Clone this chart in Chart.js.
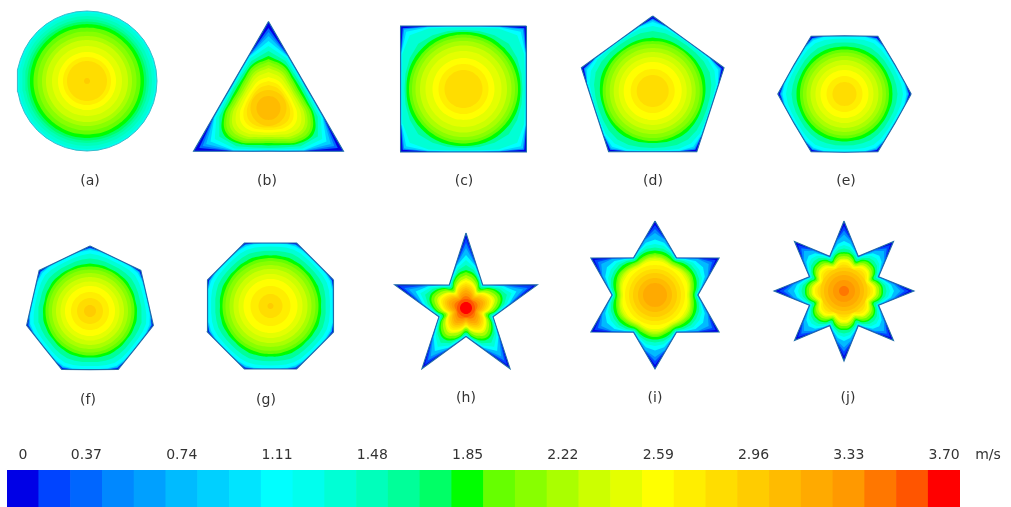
<!DOCTYPE html>
<html>
<head>
    <meta charset="UTF-8">
    <title>Velocity contours</title>
    <script src="https://cdn.jsdelivr.net/npm/chart.js"></script>
    <style>
        html, body { margin: 0; background: #fff; }
        canvas { position: absolute; left: 0; display: block; filter: blur(0.7px); }
        #shapes { top: 0; }
        #scaleBar { top: 440px; }
    </style>
</head>
<body>
    <canvas id="shapes" width="1011" height="440"></canvas>
    <canvas id="scaleBar" width="1011" height="67"></canvas>

    <script>
        // colour of each velocity band at the bottom
        const bandColors = [
            '#0000e6', '#0044ff', '#0066ff', '#0088ff', '#00a0ff', '#00bbff', '#00d0ff', '#00e4ff', '#00ffff', '#00ffee',
            '#00ffd5', '#00ffbb', '#00ff99', '#00ff66', '#00ff00', '#66ff00', '#88ff00', '#aaff00', '#ccff00', '#e4ff00',
            '#ffff00', '#ffee00', '#ffdd00', '#ffcc00', '#ffbb00', '#ffaa00', '#ff9900', '#ff7700', '#ff5500', '#ff0000'
        ];
        const bandTicks = ['0', '', '0.37', '', '', '0.74', '', '', '1.11', '', '', '1.48', '', '', '1.85', '', '', '2.22', '', '', '2.59', '', '', '2.96', '', '', '3.33', '', '', '3.70'];
        const unitLabel = 'm/s';

        const panelLabels = ['(a)', '(b)', '(c)', '(d)', '(e)', '(f)', '(g)', '(h)', '(i)', '(j)'];
        const labelX = [90, 267, 464, 653, 846, 88, 266, 466, 655, 848];
        const labelY = [181, 181, 181, 181, 181, 400, 400, 398, 398, 398];

        const centreX = [87, 268.5, 463.5, 652.7, 844.5, 90, 270.5, 466, 655, 844];
        const centreY = [81, 108, 89, 91, 94, 311, 306, 308, 295, 291];
        const sides = [1, 3, 4, 5, 6, 7, 8, 5, 6, 8];
        const startAngle = [-90, -90, -45, -90, 0, -90, -22.5, -90, -90, -90];
        // [radius at a corner, radius at the middle of a side or notch]
        const outlines = [[70], [86.6, 43.3], [89, 63], [75, 60.7], [66.7, 58.3], [65, 58.6], [68.2, 63], [75, 28.5], [74, 43], [70, 37.5]];
        const baseBand = [9, 0, 0, 0, 0, 0, 0, 0, 0, 0];

        // contour rows: band, then radii from the corner direction to the side direction
        const contoursA = [[10, 68], [11, 65], [12, 62], [13, 59.5], [14, 57], [15, 53.5], [16, 49.5], [17, 45], [18, 41], [19, 35], [20, 29], [21, 24], [22, 20], [23, 3]];
        const contoursB = [
            [2, 80, 56.2, 46, 43.1], [4, 76, 56, 45.9, 42.9], [6, 72, 55.5, 45.7, 42.6], [8, 67, 55, 45.2, 42.2], [10, 62, 53, 44, 41.5],
            [12, 57, 50, 42, 40], [14, 52, 46.5, 39.5, 37.5], [15, 49, 44.5, 37.5, 35], [16, 46.5, 42, 35.5, 33],
            [17, 43, 39, 33, 31], [18, 40, 36.5, 31, 29], [19, 36, 33, 28.5, 27], [20, 31, 29, 25.5, 24.5], [21, 27, 25.5, 23, 22],
            [22, 23, 22, 20.5, 19.5], [23, 18], [24, 12]
        ];
        const contoursC = [
            [3, 86, 72.2, 64.9, 62.8], [6, 84, 71.8, 64.7, 62.6], [8, 81, 71.4, 64.4, 62.2], [10, 76, 70, 63.5, 61.5],
            [12, 64, 62, 60, 59], [14, 58, 58, 57.5, 57], [15, 54.5], [16, 51.5], [17, 48],
            [18, 43.5], [19, 38], [20, 31], [21, 25], [22, 19]
        ];
        const contoursD = [
            [3, 72.5, 66, 61.8, 60.5], [6, 71, 65.8, 61.6, 60.3], [8, 69, 65.5, 61.4, 60.2], [10, 65, 63.5, 60.5, 59.5],
            [12, 60, 59, 57.5, 57], [14, 53.5, 53, 52.5, 52], [15, 50], [16, 47], [17, 43], [18, 39], [19, 34], [20, 29], [21, 22], [22, 16]
        ];
        const contoursE = [
            [3, 64.7, 61.7, 59, 58.1], [6, 63.5, 61.3, 58.8, 58], [8, 62, 60.7, 58.5, 57.7], [10, 58.5, 57.5, 56, 55.5],
            [12, 53, 52.5, 52, 51.5], [14, 48, 48, 47.5, 47.5], [15, 44.5], [16, 41.5], [17, 38], [18, 34], [19, 29], [20, 24], [21, 18], [22, 12]
        ];
        const contoursF = [
            [3, 63.5, 61, 59.1, 58.4], [6, 62.5, 60.7, 59, 58.3], [8, 61, 60, 58.6, 58], [10, 57.5, 56.5, 55.5, 55],
            [12, 52.5, 52, 51.5, 51], [14, 47.5, 47, 47, 46.5], [15, 44.5], [16, 41.5], [17, 38], [18, 34], [19, 29.5], [20, 25], [21, 19], [22, 13], [23, 6]
        ];
        const contoursG = [
            [3, 66.8, 65, 63.3, 62.8], [6, 66, 64.7, 63.2, 62.7], [8, 64.5, 63.8, 62.8, 62.3], [10, 61, 60.5, 59.7, 59.5],
            [12, 56.5, 56, 55.5, 55.3], [14, 51.5, 51, 51, 50.5], [15, 48], [16, 45], [17, 41], [18, 37], [19, 32], [20, 27], [21, 20], [22, 12], [23, 3]
        ];
        const contoursH = [
            [1, 70, 45.8, 34.3, 28.3], [3, 65, 45.3, 34.1, 28.2], [5, 60, 44.5, 33.8, 28], [8, 53, 43.5, 33.8, 27.8], [10, 48, 41, 32.5, 27],
            [12, 43, 38.5, 31.5, 26], [14, 38, 35.5, 30, 24.5], [15, 36, 33.5, 28.5, 23], [17, 33, 30.5, 26, 21], [19, 30, 27.5, 23.5, 19.5],
            [20, 28, 26, 22.5, 18.5], [21, 26, 24, 21, 17.5], [22, 24, 22.5, 19.5, 16.5], [23, 22, 20.5, 18, 15], [24, 20, 18.5, 16, 14],
            [25, 18, 16.5, 14.5, 12.5], [26, 15, 14, 12.5, 11], [27, 12, 11.5, 10.5, 10], [28, 9], [29, 6]
        ];
        const contoursI = [
            [1, 70, 57.3, 48.3, 42.8], [3, 66, 56.8, 48, 42.6], [5, 62, 56, 47.7, 42.5], [8, 55.5, 53, 47, 42], [10, 51, 50, 46, 41.5],
            [12, 47.5, 47, 44.5, 41], [14, 44.5, 44, 42, 39.5], [15, 42, 41, 39.5, 38], [16, 40.5, 39.5, 38, 37], [17, 39, 38, 36.5, 35.5],
            [18, 37.5, 37, 35.5, 34.5], [19, 36, 35.5, 34.5, 33.5], [20, 34, 34, 33, 32], [21, 30], [22, 26], [23, 22], [24, 17], [25, 12]
        ];
        const contoursJ = [
            [1, 65, 52.8, 43.3, 37.2], [3, 60.5, 52, 43, 37], [5, 56.5, 50.5, 42.5, 36.7], [8, 50, 47.5, 41.5, 36], [10, 46, 44.5, 40, 35.5],
            [12, 42.5, 41.5, 38, 34.5], [14, 39, 38.5, 36, 32], [15, 37.5, 37, 34, 30.5], [17, 35, 34.5, 32, 29], [19, 32.5, 32, 29.5, 27.5],
            [20, 31, 30.5, 28, 26], [21, 29, 28.5, 26.5, 24.5], [22, 26.5, 26, 24.5, 23], [23, 23.5], [24, 20], [25, 16], [26, 11], [27, 5]
        ];
        const contours = [contoursA, contoursB, contoursC, contoursD, contoursE, contoursF, contoursG, contoursH, contoursI, contoursJ];

        // radii cover one half sector, so mirror it and go round the shape
        function ringPoints(i, radii) {
            const cx = centreX[i], cy = centreY[i];
            const start = startAngle[i] * Math.PI / 180;
            const pts = [];
            const push = (a, r) => pts.push({ x: cx + r * Math.cos(a), y: cy + r * Math.sin(a) });
            if (radii.length === 1) {
                for (let k = 0; k <= 40; k++) push(start + k * Math.PI / 20, radii[0]);
                return pts;
            }
            const n = sides[i];
            const m = radii.length - 1;
            const step = Math.PI / n / m;
            for (let k = 0; k < n; k++) {
                const a = start + k * 2 * Math.PI / n;
                for (let j = 0; j <= m; j++) push(a + j * step, radii[j]);
                for (let j = m - 1; j >= 1; j--) push(a + 2 * Math.PI / n - j * step, radii[j]);
            }
            pts.push(pts[0]);
            return pts;
        }

        const datasets = [];
        panelLabels.forEach((_, i) => {
            const border = ringPoints(i, outlines[i]);
            datasets.push({ data: border, showLine: true, pointRadius: 0, fill: 'shape', backgroundColor: bandColors[baseBand[i]], borderWidth: 0 });
            contours[i].forEach(row => {
                datasets.push({
                    data: ringPoints(i, row.slice(1)),
                    showLine: true,
                    pointRadius: 0,
                    fill: 'shape',
                    backgroundColor: bandColors[row[0]],
                    borderColor: bandColors[row[0]],
                    borderWidth: 0,
                    tension: row[0] < 13 ? 0 : 0.4
                });
            });
            datasets.push({ data: border, showLine: true, pointRadius: 0, fill: false, borderColor: i === 0 ? '#35bccb' : '#1f6fa8', borderWidth: i === 0 ? 1 : 1.1 });
        });

        const panelText = {
            id: 'panelText',
            afterDraw(chart) {
                const { ctx, scales } = chart;
                ctx.save();
                ctx.font = '14px "DejaVu Sans"';
                ctx.fillStyle = '#333';
                ctx.textAlign = 'center';
                ctx.textBaseline = 'middle';
                panelLabels.forEach((t, i) => ctx.fillText(t, scales.x.getPixelForValue(labelX[i]), scales.y.getPixelForValue(labelY[i])));
                ctx.restore();
            }
        };

        new Chart(document.getElementById('shapes'), {
            type: 'scatter',
            // Chart.js paints the first dataset last
            data: { datasets: datasets.reverse() },
            plugins: [panelText],
            options: {
                responsive: false,
                animation: false,
                events: [],
                scales: {
                    x: { type: 'linear', min: 0, max: 1011, display: false },
                    y: { type: 'linear', min: 0, max: 440, reverse: true, display: false }
                },
                plugins: { legend: { display: false }, tooltip: { enabled: false } }
            }
        });

        const unitText = {
            id: 'unitText',
            afterDraw(chart) {
                const { ctx, chartArea } = chart;
                ctx.save();
                ctx.font = '14px "DejaVu Sans"';
                ctx.fillStyle = '#333';
                ctx.textAlign = 'center';
                ctx.textBaseline = 'middle';
                ctx.fillText(unitLabel, chartArea.right + 28, 15);
                ctx.restore();
            }
        };

        new Chart(document.getElementById('scaleBar'), {
            type: 'bar',
            data: {
                labels: bandTicks,
                datasets: [{ data: bandColors.map(() => 1), backgroundColor: bandColors, barPercentage: 1, categoryPercentage: 1 }]
            },
            plugins: [unitText],
            options: {
                responsive: false,
                animation: false,
                events: [],
                layout: { padding: { left: 7, right: 51 } },
                scales: {
                    x: {
                        position: 'top',
                        grid: { display: false },
                        border: { display: false },
                        afterFit: (s) => { s.height = 30; },
                        ticks: { autoSkip: false, maxRotation: 0, minRotation: 0, padding: -2, color: '#333', font: { family: 'DejaVu Sans', size: 14 } }
                    },
                    y: { min: 0, max: 1, display: false }
                },
                plugins: { legend: { display: false }, tooltip: { enabled: false } }
            }
        });
    </script>
</body>
</html>
